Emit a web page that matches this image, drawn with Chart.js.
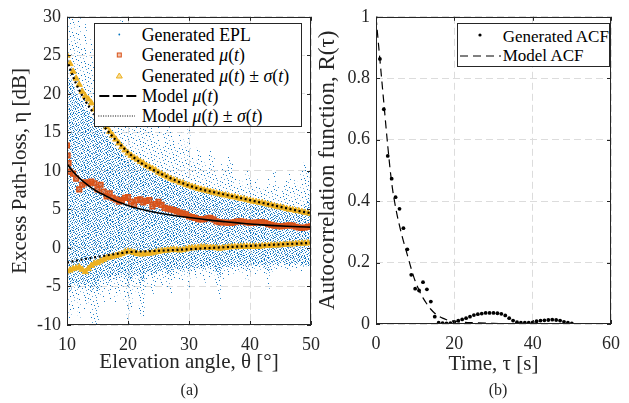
<!DOCTYPE html>
<html><head><meta charset="utf-8">
<script src="https://cdn.jsdelivr.net/npm/chart.js"></script>
<style>
html,body{margin:0;padding:0;background:#fff;}
#wrap{position:relative;width:629px;height:403px;overflow:hidden;background:#fff;font-family:'Liberation Serif','Times New Roman',serif;color:#000;}
canvas{position:absolute;top:0;}
.leg{position:absolute;background:#fff;border:1px solid #262626;box-sizing:border-box;}
.leg svg{position:absolute;left:0;top:0;overflow:visible;}
.lt{position:absolute;white-space:nowrap;font-size:17px;height:20px;line-height:20px;color:#000;font-family:'Liberation Serif','Times New Roman',serif;}
.lt.big{font-size:17.8px;}
.cap{position:absolute;font-size:16px;transform:translate(-50%,-50%);white-space:nowrap;color:#262626;}
</style></head>
<body>
<div id="wrap">
  <canvas id="c1" width="329" height="403" style="left:0px"></canvas>
  <canvas id="c2" width="314" height="403" style="left:315px"></canvas>

  <div class="leg" style="left:94px;top:23px;width:208px;height:104px;">
    <svg width="206" height="102">
      <circle cx="24.3" cy="10.5" r="0.9" fill="#0072BD"/>
      <rect x="22.3" y="29" width="4" height="4" fill="#f3c3ad" stroke="#D95319" stroke-width="1"/>
      <polygon points="24.3,49 21.3,54 27.3,54" fill="#f7dc9a" stroke="#EDB120" stroke-width="1"/>
      <line x1="4.3" y1="72" x2="42.3" y2="72" stroke="#000" stroke-width="2" stroke-dasharray="10,3.5"/>
      <line x1="3.3" y1="92" x2="40" y2="92" stroke="#000" stroke-width="1" stroke-dasharray="1,1.4"/>
    </svg>
    <div class="lt big" style="left:46.7px;top:0.5px">Generated EPL</div>
    <div class="lt big" style="left:46.7px;top:21px">Generated <i>μ</i>(<i>t</i>)</div>
    <div class="lt big" style="left:46.7px;top:41.5px">Generated <i>μ</i>(<i>t</i>) ± <i>σ</i>(<i>t</i>)</div>
    <div class="lt big" style="left:46.7px;top:62px">Model <i>μ</i>(<i>t</i>)</div>
    <div class="lt big" style="left:46.7px;top:82px">Model <i>μ</i>(<i>t</i>) ± <i>σ</i>(<i>t</i>)</div>
  </div>

  <div class="leg" style="left:457px;top:23px;width:153px;height:44px;">
    <svg width="151" height="42">
      <circle cx="22" cy="11" r="1.6" fill="#000"/>
      <line x1="2" y1="32" x2="43" y2="32" stroke="#000" stroke-width="1" stroke-dasharray="8,5"/>
    </svg>
    <div class="lt" style="left:44.7px;top:2.5px">Generated ACF</div>
    <div class="lt" style="left:44.7px;top:22px">Model ACF</div>
  </div>

  <div class="cap" style="left:189.5px;top:390px">(a)</div>
  <div class="cap" style="left:498px;top:390px">(b)</div>
</div>

<script>
// ---------------- DATA: panel (a) ----------------
const xTicksA = [10, 20, 30, 40, 50];
const xTickLabelsA = ['10', '20', '30', '40', '50'];
const yTicksA = [-10, -5, 0, 5, 10, 15, 20, 25, 30];
const yTickLabelsA = ['-10', '-5', '0', '5', '10', '15', '20', '25', '30'];

// elevation grid (deg) used by generated series and the EPL cloud
const thetaHalf = [10,10.5,11,11.5,12,12.5,13,13.5,14,14.5,
  15,15.5,16,16.5,17,17.5,18,18.5,19,19.5,
  20,20.5,21,21.5,22,22.5,23,23.5,24,24.5,
  25,25.5,26,26.5,27,27.5,28,28.5,29,29.5,
  30,30.5,31,31.5,32,32.5,33,33.5,34,34.5,
  35,35.5,36,36.5,37,37.5,38,38.5,39,39.5,
  40,40.5,41,41.5,42,42.5,43,43.5,44,44.5,
  45,45.5,46,46.5,47,47.5,48,48.5,49,49.5,
  50];

// Generated EPL cloud: sparse outer extent and dense core extent per column (dB)
const eplOuterHi = [30,30,30,28,30,26,29,24,27,25,
  23,26,22,24,21,23,26,29,30,24,
  20,18,21,17,19,16,18,15,17,14,
  16,13,15,17,19,14,13,15,14,13,
  16,12,11,13,12,11,10,13,12,10,
  9,11,10,12,11,9,8,9,8,10,
  9,8,9,8,7.5,8,9,7.5,10,8,
  7,8,9,10,8,9,7.5,10,11,10,
  9];
const eplOuterLo = [-10,-9.4,-8,-7,-9,-6,-8,-7,-10,-9.8,
  -10,-6,-7,-5,-6.8,-5,-7,-6,-5,-7,
  -10,-8,-5,-6,-8.5,-9,-5,-4,-6,-4.9,
  -4,-5,-4,-5.5,-6,-4,-3.5,-4,-4.2,-3.5,
  -5.5,-3,-4,-3,-3.5,-4.5,-3,-4,-3.5,-5,
  -6.8,-4,-3,-3.5,-3,-3.3,-2.8,-3,-3.2,-4.3,
  -3,-2.8,-3.4,-3,-2.8,-3.5,-5.3,-3,-2.5,-3,
  -2.6,-2.5,-2.8,-2.9,-2.5,-2.6,-2.4,-3,-2.5,-2.3,
  -2.3];
const eplCoreHi = [23,22,21,20,19.5,19,18,17.5,17,16.5,
  16,15.5,15,14.5,14,13.5,13,12.8,12.5,12,
  11.5,11.3,11,10.8,10.5,10.3,10,9.8,9.6,9.4,
  9.2,9,8.8,8.6,8.5,8.3,8.2,8,7.9,7.8,
  7.7,7.5,7.4,7.3,7.2,7.1,7,6.9,6.8,6.7,
  6.6,6.5,6.4,6.3,6.2,6.1,6,5.9,5.9,5.8,
  5.7,5.6,5.6,5.5,5.4,5.3,5.3,5.2,5.1,5,
  5,4.9,4.8,4.8,4.7,4.6,4.6,4.5,5.5,6.5,
  7];
const eplCoreLo = [-5,-5.5,-4.5,-4.8,-5.2,-4.6,-5,-4.5,-5.5,-5,
  -5.5,-4,-4.2,-3.8,-4.5,-3.6,-4,-3.5,-3.4,-3.8,
  -5,-4,-3.5,-3.4,-4.5,-4.2,-3.2,-3,-3.4,-3.2,
  -2.9,-3,-2.8,-3.2,-3.4,-2.8,-2.6,-2.8,-3,-2.6,
  -3,-2.5,-2.7,-2.4,-2.6,-2.8,-2.4,-2.6,-2.5,-3,
  -3.5,-2.6,-2.3,-2.5,-2.3,-2.4,-2.2,-2.3,-2.4,-2.8,
  -2.3,-2.1,-2.4,-2.2,-2.1,-2.5,-3.2,-2.2,-2,-2.2,
  -2,-1.9,-2.1,-2.2,-1.9,-2,-1.9,-2.2,-2.4,-2.3,
  -2.3];

// Generated mu(t)
const genMuTheta = [10,10.1,10.25,10.5,11,11.5,12,12.5,13,13.5,14,14.5,
  15,15.5,16,16.5,17,17.5,18,18.5,19,19.5,
  20,20.5,21,21.5,22,22.5,23,23.5,24,24.5,
  25,25.5,26,26.5,27,27.5,28,28.5,29,29.5,
  30,30.5,31,31.5,32,32.5,33,33.5,34,34.5,
  35,35.5,36,36.5,37,37.5,38,38.5,39,39.5,
  40,40.5,41,41.5,42,42.5,43,43.5,44,44.5,
  45,45.5,46,46.5,47,47.5,48,48.5,49,49.5,50];
const genMu = [13.3,12.0,11.0,9.9,9.65,9.0,7.6,8.2,8.5,8.4,8.6,8.4,
  7.6,8.2,7.3,6.7,7.1,6.5,6.3,6.0,6.2,6.5,
  6.6,6.0,5.6,6.2,6.3,5.9,6.1,6.2,5.4,5.7,
  6.0,5.6,5.2,5.1,5.0,4.9,4.75,4.6,4.5,4.35,
  4.1,4.0,3.9,3.75,3.7,3.75,3.85,3.9,3.7,3.45,
  3.35,3.3,3.3,3.25,3.25,3.35,3.45,3.46,3.4,3.3,
  3.25,3.25,3.3,3.35,3.37,3.25,3.1,3.0,2.9,2.85,
  2.8,2.85,2.9,2.95,2.9,2.75,2.65,2.6,2.65,2.75,2.8];

// Generated mu(t) +/- sigma(t)
const genUp = [25.0,23.9,22.9,22.0,21.2,20.3,19.7,19.3,18.8,18.0,
  17.2,16.6,16.2,15.7,15.1,14.6,14.1,13.6,13.1,12.7,
  12.3,12.0,11.7,11.5,11.2,11.0,10.7,10.5,10.3,10.1,
  9.8,9.6,9.4,9.2,9.0,8.8,8.7,8.5,8.4,8.2,
  8.1,7.95,7.85,7.7,7.6,7.5,7.4,7.3,7.2,7.1,
  7.0,6.9,6.85,6.75,6.65,6.6,6.5,6.4,6.35,6.25,
  6.15,6.05,6.0,5.9,5.85,5.75,5.65,5.55,5.45,5.35,
  5.3,5.2,5.1,5.0,4.95,4.85,4.8,4.7,4.6,4.55,
  4.45];
const genLo = [-3.0,-2.9,-2.7,-2.6,-2.5,-2.8,-3.1,-2.7,-2.3,-2.0,
  -1.9,-1.7,-1.5,-1.3,-1.2,-1.1,-1.0,-0.9,-0.75,-0.55,
  -0.45,-0.5,-0.6,-0.75,-0.8,-0.8,-0.75,-0.7,-0.65,-0.55,
  -0.45,-0.4,-0.35,-0.3,-0.25,-0.2,-0.25,-0.3,-0.25,-0.15,
  -0.05,0.0,0.0,0.05,0.1,0.1,0.05,0.05,0.05,0.0,
  -0.05,0.0,0.05,0.1,0.15,0.15,0.15,0.2,0.2,0.2,
  0.2,0.2,0.2,0.2,0.25,0.3,0.3,0.35,0.35,0.35,
  0.4,0.45,0.45,0.5,0.5,0.55,0.55,0.6,0.6,0.65,
  0.65];

// Model curves
const modelTheta = [10,11,12,13,14,15,16,17,18,19,20,22,24,26,28,30,32,34,36,38,40,42,44,46,48,50];
const modelMu = [10.9,9.9,9.1,8.4,7.8,7.3,6.9,6.5,6.1,5.8,5.5,5.05,4.7,4.4,4.15,3.95,3.75,3.55,3.4,3.25,3.1,3.0,2.9,2.82,2.75,2.7];
const modelUp = [24.4,22.2,20.5,19.1,17.9,16.8,15.8,14.9,14.0,13.2,12.4,11.1,10.2,9.4,8.7,8.1,7.6,7.25,6.9,6.55,6.2,5.85,5.5,5.15,4.8,4.5];
const modelLo = [-1.9,-1.72,-1.56,-1.41,-1.28,-1.15,-1.02,-0.9,-0.78,-0.66,-0.55,-0.46,-0.4,-0.33,-0.25,-0.17,-0.07,0.02,0.1,0.18,0.26,0.34,0.42,0.5,0.58,0.66];

// ---------------- DATA: panel (b) ----------------
const xTicksB = [0, 20, 40, 60];
const xTickLabelsB = ['0', '20', '40', '60'];
const yTicksB = [0, 0.2, 0.4, 0.6, 0.8, 1];
const yTickLabelsB = ['0', '0.2', '0.4', '0.6', '0.8', '1'];

const acfTau = [0,1,2,3,4,5,6,7,8,9,10,11,12,13,14,15,16,17,18,19,20,
  21,22,23,24,25,26,27,28,29,30,31,32,33,34,35,36,37,38,39,40,
  41,42,43,44,45,46,47,48,49,50];
const acfGen = [1.0,0.863,0.699,0.547,0.473,0.413,0.375,0.312,0.243,0.160,0.115,
  0.109,0.136,0.113,0.073,0.024,0.004,0.003,0.002,0.003,0.007,
  0.011,0.015,0.019,0.024,0.029,0.032,0.034,0.036,0.036,0.036,
  0.035,0.033,0.028,0.019,0.011,0.006,0.004,0.004,0.004,0.005,
  0.009,0.011,0.012,0.013,0.014,0.013,0.011,0.007,0.004,0.002];
const modelTau = [0,1,2,3,4,5,6,7,8,9,10,11,12,13,14,15,16,17,18,19,20,22,25,30,35,40,45,50];
const modelAcf = [1,0.86,0.72,0.58,0.46,0.38,0.32,0.27,0.225,0.18,0.14,0.11,0.085,0.065,0.048,0.035,0.026,0.019,0.014,0.011,0.009,0.006,0.004,0.002,0.001,0,0,0];

// ---------------- STYLE / HELPERS ----------------
const FONT = "'Liberation Serif','Times New Roman',serif";
const AXC = '#262626';
Chart.defaults.font.family = FONT;
Chart.defaults.color = AXC;

const pts = (xs, ys) => xs.map((x, i) => ({ x: x, y: ys[i] }));
const ranges = (xs, lo, hi) => xs.map((x, i) => ({ x: x, y: [lo[i], hi[i]] }));

// stipple texture tiles (purely a visual fill style for the EPL cloud bars)
const CORE_TILE = [[1,5,9],[3,8,11],[0,6,10],[2,4,9],[1,7,11],[3,5,10],[0,4,8],[2,6,11],[0,5,9],[3,7,10],[1,4,8],[2,6,11]];
const OUTER_TILE = [[2],[8],[5],[0],[9],[3],[6],[10],[1],[7],[4],[8],[0]];
function makePattern(ctx, w, rows, color) {
  const c = document.createElement('canvas');
  c.width = w; c.height = rows.length;
  const g = c.getContext('2d');
  g.fillStyle = color;
  rows.forEach((cols, r) => cols.forEach(cx => g.fillRect(cx, r, 1, 1)));
  return ctx.createPattern(c, 'repeat');
}

const boxPlugin = {
  id: 'boxTicks',
  afterDatasetsDraw(chart) {
    const { ctx, chartArea: a, scales } = chart;
    ctx.save();
    ctx.strokeStyle = AXC;
    ctx.lineWidth = 1;
    ctx.setLineDash([]);
    ctx.beginPath();
    const L = 4;
    scales.x.ticks.forEach(t => {
      const p = Math.round(scales.x.getPixelForValue(t.value)) + 0.5;
      ctx.moveTo(p, a.bottom); ctx.lineTo(p, a.bottom - L);
      ctx.moveTo(p, a.top); ctx.lineTo(p, a.top + L);
    });
    scales.y.ticks.forEach(t => {
      const p = Math.round(scales.y.getPixelForValue(t.value)) + 0.5;
      ctx.moveTo(a.left, p); ctx.lineTo(a.left + L, p);
      ctx.moveTo(a.right, p); ctx.lineTo(a.right - L, p);
    });
    ctx.stroke();
    ctx.strokeRect(Math.round(a.left) + 0.5, Math.round(a.top) + 0.5,
      Math.round(a.right - a.left) - 1, Math.round(a.bottom - a.top) - 1);
    ctx.restore();
  }
};

function axis(opts) {
  return {
    type: 'linear', min: opts.min, max: opts.max, offset: false,
    afterBuildTicks: s => { s.ticks = opts.ticks.map(v => ({ value: v })); },
    afterFit: opts.fit,
    ticks: {
      font: { family: FONT, size: 18 }, color: AXC, padding: opts.pad, autoSkip: false, maxRotation: 0,
      callback: (v, i) => opts.labels[i]
    },
    grid: { color: '#dcdcdc', lineWidth: 1, drawTicks: false, offset: false },
    border: { display: false, dash: [7, 4] },
    title: { display: true, text: opts.title, color: AXC,
      font: { family: FONT, size: opts.tsize, lineHeight: 1 }, padding: opts.tpad }
  };
}

// ---------------- CHART (a) ----------------
const ctx1 = document.getElementById('c1').getContext('2d');
const DOT = 'rgb(20,120,196)';
const patOuter = makePattern(ctx1, 11, OUTER_TILE, DOT);
const patCore = makePattern(ctx1, 12, CORE_TILE, DOT);

new Chart(ctx1, {
  type: 'scatter',
  data: {
    datasets: [
      { label: 'Model μ(t) + σ(t)', data: pts(modelTheta, modelUp), showLine: true, pointRadius: 0,
        borderColor: '#000', borderWidth: 2.2, borderDash: [2, 2.6], cubicInterpolationMode: 'monotone', order: 1 },
      { label: 'Model μ(t) − σ(t)', data: pts(modelTheta, modelLo), showLine: true, pointRadius: 0,
        borderColor: '#000', borderWidth: 2.2, borderDash: [2, 2.6], cubicInterpolationMode: 'monotone', order: 1 },
      { label: 'Model μ(t)', data: pts(modelTheta, modelMu), showLine: true, pointRadius: 0,
        borderColor: '#000', borderWidth: 1.6, cubicInterpolationMode: 'monotone', order: 1 },
      { label: 'Generated μ(t) + σ(t)', data: pts(thetaHalf, genUp), pointStyle: 'triangle', pointRadius: 3.6,
        backgroundColor: '#EDB120', borderColor: '#EDB120', borderWidth: 1, order: 2 },
      { label: 'Generated μ(t) − σ(t)', data: pts(thetaHalf, genLo), pointStyle: 'triangle', pointRadius: 3.6,
        backgroundColor: '#EDB120', borderColor: '#EDB120', borderWidth: 1, order: 2 },
      { label: 'Generated μ(t)', data: pts(genMuTheta, genMu), pointStyle: 'rect', pointRadius: 3.3,
        backgroundColor: 'rgba(217,83,25,0.7)', borderColor: '#D95319', borderWidth: 1.5, order: 3 },
      { label: 'Generated EPL core', type: 'bar', data: ranges(thetaHalf, eplCoreLo, eplCoreHi),
        backgroundColor: patCore, borderWidth: 0, barThickness: 2, grouped: false, order: 4 },
      { label: 'Generated EPL', type: 'bar', data: ranges(thetaHalf, eplOuterLo, eplOuterHi),
        backgroundColor: patOuter, borderWidth: 0, barThickness: 2, grouped: false, order: 5 }
    ]
  },
  options: {
    responsive: false, animation: false, events: [],
    layout: { padding: { top: 13, right: 18, bottom: 0, left: 0 } },
    plugins: { legend: { display: false }, tooltip: { enabled: false } },
    scales: {
      x: axis({ min: 10, max: 50, ticks: xTicksA, labels: xTickLabelsA, pad: 9,
        fit: s => { s.height = 78; }, title: 'Elevation angle, θ [°]', tsize: 21, tpad: { top: 0, bottom: 30 } }),
      y: axis({ min: -10, max: 30, ticks: yTicksA, labels: yTickLabelsA, pad: 6,
        fit: s => { s.width = 67; }, title: 'Excess Path-loss, η [dB]', tsize: 21, tpad: { top: 9.5, bottom: 0 } })
    }
  },
  plugins: [boxPlugin]
});

// ---------------- CHART (b) ----------------
const ctx2 = document.getElementById('c2').getContext('2d');
new Chart(ctx2, {
  type: 'scatter',
  data: {
    datasets: [
      { label: 'Generated ACF', data: pts(acfTau, acfGen), pointRadius: 1.9,
        backgroundColor: '#000', borderColor: '#000', borderWidth: 0, order: 1 },
      { label: 'Model ACF', data: pts(modelTau, modelAcf), showLine: true, pointRadius: 0,
        borderColor: '#000', borderWidth: 1.2, borderDash: [8, 5], cubicInterpolationMode: 'monotone', order: 2 }
    ]
  },
  options: {
    responsive: false, animation: false, events: [],
    layout: { padding: { top: 13, right: 10, bottom: 0, left: 0 } },
    plugins: { legend: { display: false }, tooltip: { enabled: false } },
    scales: {
      x: axis({ min: 0, max: 60, ticks: xTicksB, labels: xTickLabelsB, pad: 9,
        fit: s => { s.height = 79; }, title: 'Time, τ [s]', tsize: 21, tpad: { top: 0, bottom: 28 } }),
      y: axis({ min: 0, max: 1, ticks: yTicksB, labels: yTickLabelsB, pad: 6,
        fit: s => { s.width = 61; }, title: 'Autocorrelation function, R(τ)', tsize: 23, tpad: { top: 1, bottom: 0 } })
    }
  },
  plugins: [boxPlugin]
});
</script>
</body></html>
